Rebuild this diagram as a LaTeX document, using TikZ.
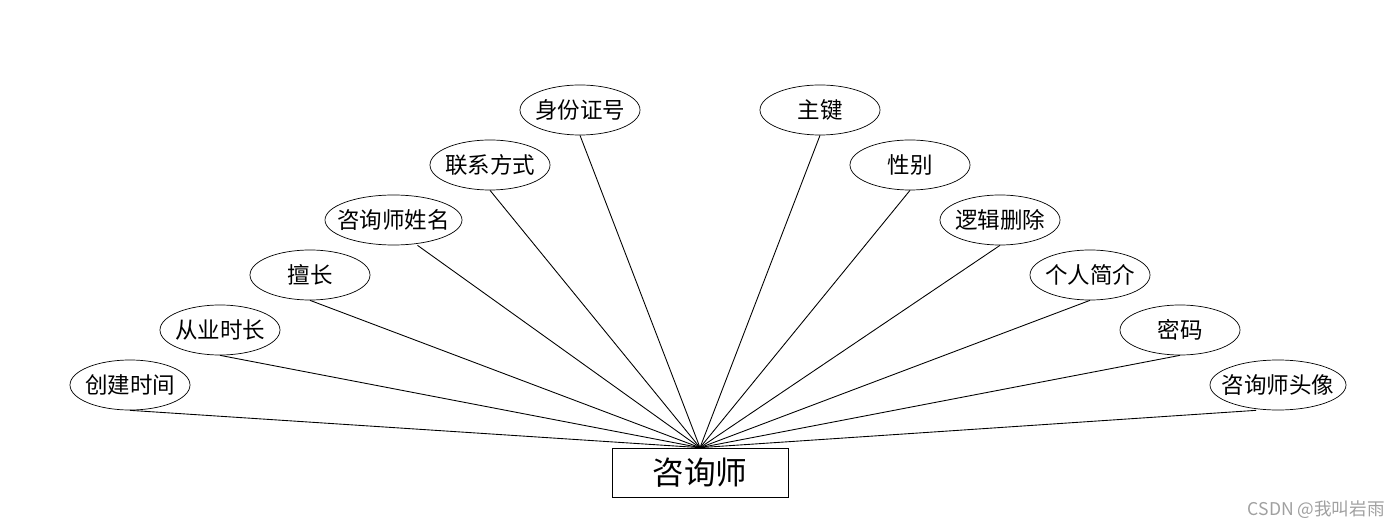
\documentclass[tikz,border=0pt]{standalone}
\usepackage{fontspec}
\setmainfont{Noto Sans CJK SC}
\usetikzlibrary{shapes.geometric}
\definecolor{MarkGray}{HTML}{A0A0A0}
\tikzset{
  attrbox/.style={draw=black, ellipse, fill=white, minimum width=2.4cm, minimum height=1cm, inner xsep=-2pt, inner ysep=0pt, font=\fontsize{12.8}{14}\selectfont},
  entitybox/.style={draw=black, rectangle, fill=white, minimum width=3.52cm, minimum height=0.98cm, inner sep=0pt, font=\fontsize{18}{20}\selectfont},
  link/.style={draw=black, line width=0.5pt}
}
\begin{document}
\begin{tikzpicture}
\useasboundingbox (0,0) rectangle (28,10.56);
\node[entitybox] (teacher) at (14,1.11) {咨询师};
% left side
\node[attrbox] (ctime) at (2.6,2.86) {创建时间};
\node[attrbox] (years) at (4.4,3.96) {从业时长};
\node[attrbox] (skill) at (6.2,5.06) {擅长};
\node[attrbox, minimum width=2.74cm, inner xsep=-6pt] (tname) at (7.87,6.16) {咨询师姓名};
\node[attrbox] (phone) at (9.8,7.26) {联系方式};
\node[attrbox] (idcard) at (11.6,8.36) {身份证号};
% right side
\node[attrbox] (pkey) at (16.4,8.36) {主键};
\node[attrbox] (gender) at (18.2,7.26) {性别};
\node[attrbox] (deleted) at (20.0,6.16) {逻辑删除};
\node[attrbox] (intro) at (21.8,5.06) {个人简介};
\node[attrbox] (passwd) at (23.6,3.96) {密码};
\node[attrbox, minimum width=2.72cm, inner xsep=-6pt] (avatar) at (25.56,2.86) {咨询师头像};
% links to entity
\draw[link] (ctime.south) -- (teacher.north);
\draw[link] (years.south) -- (teacher.north);
\draw[link] (skill.south) -- (teacher.north);
\draw[link] ([xshift=0.48cm]tname.south) -- (teacher.north);
\draw[link] (phone.south) -- (teacher.north);
\draw[link] (idcard.south) -- (teacher.north);
\draw[link] (pkey.south) -- (teacher.north);
\draw[link] (gender.south) -- (teacher.north);
\draw[link] (deleted.south) -- (teacher.north);
\draw[link] (intro.south) -- (teacher.north);
\draw[link] (passwd.south) -- (teacher.north);
\draw[link] ([xshift=-0.44cm]avatar.south) -- (teacher.north);
\node[anchor=east, inner sep=0pt, text=MarkGray, font=\fontsize{10}{12}\selectfont] (mark) at (27.7,0.36) {CSDN @我叫岩雨};
\end{tikzpicture}
\end{document}
